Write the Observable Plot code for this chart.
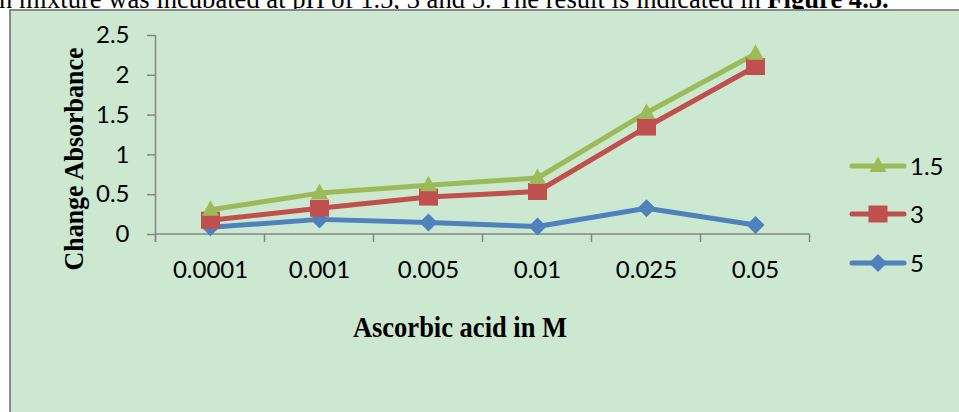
<!DOCTYPE html>
<html>
<head>
<meta charset="utf-8">
<script src="https://cdn.jsdelivr.net/npm/d3@7"></script>
<script src="https://cdn.jsdelivr.net/npm/@observablehq/plot@0.6"></script>
<style>
  html, body { margin: 0; padding: 0; width: 959px; height: 412px; overflow: hidden; background: #ffffff; }
  #page { position: relative; width: 959px; height: 412px; overflow: hidden; }
  #intro { position: absolute; left: -1px; top: -14px; line-height: 1; white-space: nowrap; font-family: "Liberation Serif", "Times New Roman", serif; font-size: 26.6px; color: #000; }
  #box { position: absolute; left: 9px; top: 9px; width: 1000px; height: 500px; border: 2px solid #8a8a8a; background: #cde8d0; box-sizing: border-box; }
  #chart { position: absolute; left: 0; top: 0; }
  #chart svg text { fill: #000; }
  #chart svg [aria-label^="y-axis"] line, #chart svg [aria-label^="y-axis"] path { stroke: #868686; stroke-width: 1.5; }
  #ylabel { position: absolute; left: 75px; top: 159px; transform: translate(-50%, -50%) rotate(-90deg) scaleY(1.05); white-space: nowrap; font-family: "Liberation Serif", "Times New Roman", serif; font-weight: bold; font-size: 26px; color: #000; }
  #xlabel { position: absolute; left: 460px; top: 327px; transform: translate(-50%, -50%) scaleY(1.12); white-space: nowrap; font-family: "Liberation Serif", "Times New Roman", serif; font-weight: bold; font-size: 26.5px; color: #000; }
  #legend { position: absolute; left: 0; top: 0; }
</style>
</head>
<body>
<div id="page">
  <div id="intro">n mixture was incubated at pH of 1.5, 3 and 5. The result is indicated in <b>Figure 4.5.</b></div>
  <div id="box"></div>
  <div id="chart"></div>
  <div id="ylabel">Change Absorbance</div>
  <div id="xlabel">Ascorbic acid in M</div>
  <div id="legend"></div>
</div>
<script>
// ---- data ----
const concentrations = ["0.0001", "0.001", "0.005", "0.01", "0.025", "0.05"];
const seriesNames = ["1.5", "3", "5"];
const ph15 = [0.31, 0.52, 0.62, 0.71, 1.53, 2.27];
const ph3 = [0.18, 0.33, 0.47, 0.54, 1.35, 2.11];
const ph5 = [0.09, 0.19, 0.15, 0.10, 0.33, 0.12];
const yTicks = [0, 0.5, 1, 1.5, 2, 2.5];

// ---- styles ----
const colors = { "1.5": "#9bbb59", "3": "#c0504d", "5": "#4f81bd" };
const symTriangle = { draw(ctx) { ctx.moveTo(0, -9.5); ctx.lineTo(8.5, 6); ctx.lineTo(-8.5, 6); ctx.closePath(); } };
const symSquare = { draw(ctx) { ctx.moveTo(-9.5, -8.5); ctx.lineTo(9.5, -8.5); ctx.lineTo(9.5, 8.5); ctx.lineTo(-9.5, 8.5); ctx.closePath(); } };
const symDiamond = { draw(ctx) { ctx.moveTo(0, -9); ctx.lineTo(9, 0); ctx.lineTo(0, 9); ctx.lineTo(-9, 0); ctx.closePath(); } };
const symbols = { "1.5": symTriangle, "3": symSquare, "5": symDiamond };

const valuesBySeries = { "1.5": ph15, "3": ph3, "5": ph5 };
const rows = seriesNames.flatMap(s => concentrations.map((c, i) => ({ series: s, conc: c, value: valuesBySeries[s][i] })));
const drawOrder = ["5", "3", "1.5"];

function axisFrame(index, scales, values, dims) {
  const x = scales.x, y = scales.y;
  const step = typeof x.step === "function" ? x.step() : (dims.width - dims.marginLeft - dims.marginRight) / concentrations.length;
  const edges = concentrations.map(c => x(c) - step / 2).concat([x(concentrations[concentrations.length - 1]) + step / 2]);
  const y0 = y(0);
  const g = d3.create("svg:g").attr("stroke", "#868686").attr("stroke-width", 1.5).attr("fill", "none");
  g.append("line").attr("x1", edges[0]).attr("x2", edges[0]).attr("y1", y(yTicks[yTicks.length - 1])).attr("y2", y0 + 8);
  g.append("line").attr("x1", edges[0]).attr("x2", edges[edges.length - 1]).attr("y1", y0).attr("y2", y0);
  edges.forEach(e => g.append("line").attr("x1", e).attr("x2", e).attr("y1", y0).attr("y2", y0 + 8));
  return g.node();
}

const marks = [axisFrame];
for (const s of drawOrder) {
  const data = rows.filter(d => d.series === s);
  marks.push(Plot.line(data, { x: "conc", y: "value", stroke: colors[s], strokeWidth: 5, strokeLinejoin: "round", strokeLinecap: "round" }));
}
for (const s of drawOrder) {
  const data = rows.filter(d => d.series === s);
  marks.push(Plot.dot(data, { x: "conc", y: "value", symbol: symbols[s], fill: colors[s], stroke: "none", r: 9 }));
}

const chart = Plot.plot({
  width: 959,
  height: 412,
  marginLeft: 155,
  marginRight: 149,
  marginTop: 35,
  marginBottom: 178,
  style: { background: "transparent", fontFamily: "Lato, 'Open Sans', sans-serif", fontSize: "24px", color: "#000", overflow: "visible" },
  x: { type: "point", domain: concentrations, padding: 0.5, tickSize: 0, tickPadding: 26, label: null },
  y: { domain: [0, 2.5], ticks: yTicks, tickSize: 8, tickPadding: 18, tickFormat: d => String(d), label: null },
  marks
});
document.getElementById("chart").appendChild(chart);

// ---- legend ----
const legendRows = { "1.5": 166, "3": 214, "5": 263 };
const lg = d3.select("#legend").append("svg").attr("width", 959).attr("height", 412);
seriesNames.forEach(s => {
  const yy = legendRows[s];
  lg.append("line").attr("x1", 852).attr("x2", 904).attr("y1", yy).attr("y2", yy)
    .attr("stroke", colors[s]).attr("stroke-width", 5).attr("stroke-linecap", "round");
  const p = d3.path(); symbols[s].draw(p);
  lg.append("path").attr("d", p.toString()).attr("transform", `translate(878,${yy})`).attr("fill", colors[s]);
  lg.append("text").attr("x", 910).attr("y", yy).attr("dy", "0.36em").attr("font-family", "Lato, 'Open Sans', sans-serif").attr("font-size", 24).attr("fill", "#000").text(s);
});
</script>
</body>
</html>
